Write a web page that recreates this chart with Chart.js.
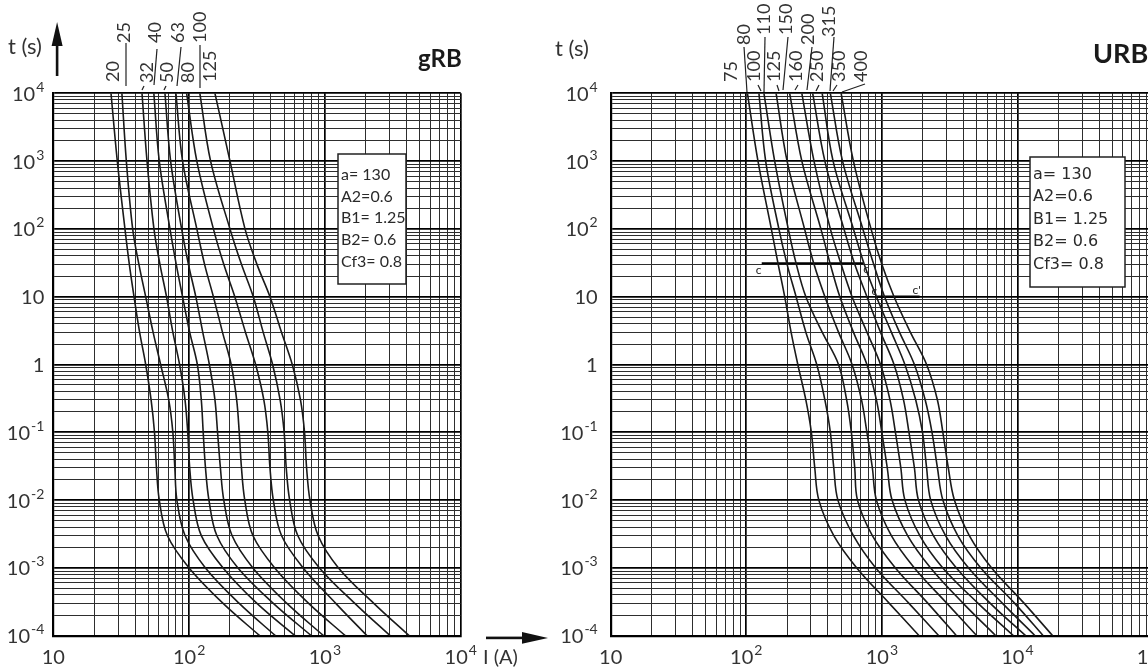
<!DOCTYPE html>
<html>
<head>
<meta charset="utf-8">
<script src="https://cdn.jsdelivr.net/npm/chart.js@4.4.0/dist/chart.umd.min.js"></script>
<style>
  html, body { margin: 0; padding: 0; background: #fff; width: 1148px; height: 669px; overflow: hidden; }
  #leftBox { position: absolute; left: 0; top: 0; }
  #rightBox { position: absolute; left: 545px; top: 0; }
</style>
</head>
<body>
<div id="leftBox"><canvas id="gChart" width="560" height="669"></canvas></div>
<div id="rightBox"><canvas id="uChart" width="640" height="669"></canvas></div>
<script>
// time levels (s) where the current of every curve was read
const tLevels = [1e4, 1e3, 100, 30, 10, 3, 1, 0.3, 0.1, 0.03, 0.01, 0.003, 0.001, 3e-4, 1e-4];

// gRB curves, current (A) at each time level
const gRatings = ["20", "25", "32", "40", "50", "63", "80", "100", "125"];
const g20 = [26.6, 29.6, 33.7, 36.3, 39.3, 43.2, 47.9, 52.5, 55.6, 57.5, 60.3, 69.2, 100, 178, 331];
const g25 = [32, 34.5, 38.4, 42.7, 47.9, 54.3, 61.7, 70.8, 75.9, 78.5, 81.3, 93.3, 132, 234, 432];
const g32 = [45, 49, 55.1, 61, 68.2, 75.9, 85.1, 93.3, 97.7, 101, 107, 123, 178, 316, 603];
const g40 = [55, 60.3, 72.3, 80.4, 89.5, 101, 115, 123, 127, 132, 140, 160, 229, 417, 794];
const g50 = [66.4, 73.1, 88.1, 98.9, 112, 126, 141, 155, 162, 170, 180, 207, 295, 525, 977];
const g63 = [80, 89.5, 114, 130, 151, 176, 204, 224, 234, 243, 257, 295, 427, 759, 1413];
const g80 = [95.9, 114, 151, 180, 217, 260, 309, 355, 380, 394, 417, 479, 692, 1202, 2042];
const g100 = [120, 144, 200, 243, 297, 351, 412, 468, 501, 519, 550, 631, 912, 1660, 3020];
const g125 = [155, 200, 258, 316, 394, 479, 575, 661, 708, 733, 776, 891, 1259, 2291, 4169];

// URB curves, current (A) at each time level
const uRatings = ["75", "80", "100", "110", "125", "150", "160", "200", "250", "315", "350", "400"];
const u1 = [102, 122, 153, 172, 192, 214, 240, 275, 302, 320, 343, 442, 653, 1135, 1884];
const u2 = [124, 139, 174, 200, 233, 275, 331, 380, 417, 442, 474, 617, 902, 1585, 2630];
const u3 = [135, 162, 204, 234, 275, 363, 479, 550, 596, 631, 661, 851, 1259, 2188, 3548];
const u4 = [166, 200, 269, 316, 380, 479, 603, 708, 776, 851, 912, 1175, 1738, 3020, 5012];
const u5 = [209, 257, 355, 417, 490, 617, 776, 912, 1000, 1096, 1189, 1549, 2291, 3981, 6918];
const u6 = [257, 316, 417, 501, 603, 776, 977, 1148, 1259, 1380, 1479, 1905, 2818, 5129, 9333];
const u7 = [309, 380, 525, 631, 776, 977, 1230, 1445, 1585, 1738, 1862, 2399, 3548, 6310, 11480];
const u8 = [363, 437, 617, 741, 912, 1175, 1479, 1778, 1995, 2138, 2291, 2951, 4365, 7762, 13490];
const u9 = [417, 513, 724, 871, 1047, 1349, 1738, 2089, 2344, 2570, 2818, 3631, 5370, 9550, 15490];
const u10 = [501, 617, 832, 1000, 1230, 1622, 2138, 2570, 2818, 3090, 3428, 4416, 6457, 11220, 18200];

// c - c' marks on URB (current range and time)
const cLineAI = [130, 728];
const cLineAT = 31;
const cLineBI = [912, 1900];
const cLineBT = 10;

const paramLines = ["a= 130", "A2=0.6", "B1= 1.25", "B2= 0.6", "Cf3= 0.8"];

const FONT = "Lato, 'DejaVu Sans', sans-serif";
const INK = "#1a1a1a";

function logGrid(minExp, maxExp) {
  const v = [];
  for (let e = minExp; e < maxExp; e++) {
    for (let m = 1; m < 10; m++) v.push(m * Math.pow(10, e));
  }
  v.push(Math.pow(10, maxExp));
  return v;
}
function isDecade(v) {
  const l = Math.log10(v);
  return Math.abs(l - Math.round(l)) < 1e-6;
}

// "10" with a raised exponent, like the printed sheet
function drawPow(c, v, x, y, align) {
  const e = Math.round(Math.log10(v));
  const base = e === 0 ? "1" : "10";
  const exp = e === 0 || e === 1 ? "" : String(e);
  c.font = "20px " + FONT;
  const wb = c.measureText(base).width;
  c.font = "14px " + FONT;
  const we = exp ? c.measureText(exp).width + 1 : 0;
  const x0 = align === "center" ? x - (wb + we) / 2 : x - wb - we;
  c.font = "20px " + FONT;
  c.fillText(base, x0, y);
  if (exp) {
    c.font = "14px " + FONT;
    c.fillText(exp, x0 + wb + 1, y - 7);
  }
}

function curveSet(list) {
  return list.map((arr) => ({
    data: arr.map((I, i) => ({ x: I, y: tLevels[i] })),
    borderColor: INK,
    borderWidth: 1.6,
    pointRadius: 0,
    tension: 0.35,
    fill: false,
  }));
}
function hLine(I, t) {
  return {
    data: I.map((v) => ({ x: v, y: t })),
    borderColor: "#000",
    borderWidth: 2.4,
    pointRadius: 0,
    tension: 0,
  };
}

function axes(xMax, yWidth) {
  const gridStyle = {
    drawTicks: false,
    color: (c) => (c.tick && isDecade(c.tick.value) ? "#000" : "#2e2e2e"),
    lineWidth: (c) => (c.tick && isDecade(c.tick.value) ? 1.7 : 1),
  };
  return {
    x: {
      type: "logarithmic",
      min: 10,
      max: xMax,
      afterBuildTicks: (s) => { s.ticks = logGrid(1, Math.round(Math.log10(xMax))).map((v) => ({ value: v })); },
      afterFit: (s) => { s.height = 33.3; },
      ticks: { autoSkip: false, maxRotation: 0, callback: () => "" },
      grid: gridStyle,
      border: { color: "#000", width: 2.2 },
    },
    y: {
      type: "logarithmic",
      min: 1e-4,
      max: 1e4,
      afterBuildTicks: (s) => { s.ticks = logGrid(-4, 4).map((v) => ({ value: v })); },
      afterFit: (s) => { s.width = yWidth; },
      ticks: { autoSkip: false, callback: () => "" },
      grid: gridStyle,
      border: { color: "#000", width: 2.2 },
    },
  };
}

function decoPlugin(cfg) {
  return {
    id: "deco",
    afterDraw(chart) {
      const c = chart.ctx;
      const ox = cfg.offsetX;
      const xs = chart.scales.x, ys = chart.scales.y;
      const area = chart.chartArea;
      c.save();
      // tick labels at the decades
      c.fillStyle = "#333";
      c.textAlign = "left";
      c.textBaseline = "middle";
      xs.ticks.filter((t) => isDecade(t.value)).forEach((t) => {
        drawPow(c, t.value, xs.getPixelForValue(t.value), area.bottom + 22, "center");
      });
      ys.ticks.filter((t) => isDecade(t.value)).forEach((t) => {
        drawPow(c, t.value, area.left - cfg.yPad, ys.getPixelForValue(t.value) + 1, "right");
      });
      // title
      c.fillStyle = INK;
      c.font = "bold " + cfg.titleSize + "px " + FONT;
      c.textBaseline = "alphabetic";
      c.fillText(cfg.title, cfg.titleX - ox, cfg.titleY);
      // t (s)
      c.font = "22px " + FONT;
      c.fillStyle = "#333";
      c.textBaseline = "middle";
      c.fillText("t (s)", cfg.tX - ox, cfg.tY);
      // parameter box
      const b = cfg.box;
      c.fillStyle = "#fff";
      c.fillRect(b.x0 - ox, b.y0, b.x1 - b.x0, b.y1 - b.y0);
      c.lineWidth = 1.5;
      c.strokeStyle = "#222";
      c.strokeRect(b.x0 - ox, b.y0, b.x1 - b.x0, b.y1 - b.y0);
      c.fillStyle = "#2a2a2a";
      c.font = b.font;
      paramLines.forEach((txt, i) => c.fillText(txt, b.x0 + 3 - ox, b.rows[i]));
      // rating labels, rotated
      c.font = "18px " + FONT;
      c.fillStyle = "#333";
      cfg.labels.forEach((lb, i) => {
        c.save();
        c.translate(lb[0] - ox, lb[1]);
        c.rotate(-Math.PI / 2);
        c.textAlign = "left";
        c.textBaseline = "middle";
        c.fillText(cfg.ratings[i], 0, 0);
        c.restore();
      });
      // leaders
      c.strokeStyle = "#222";
      c.lineWidth = 1.2;
      cfg.leaders.forEach((l) => {
        c.beginPath();
        c.moveTo(l[0] - ox, l[1]);
        c.lineTo(l[2] - ox, l[3]);
        c.stroke();
      });
      if (cfg.extra) cfg.extra(chart, c);
      c.restore();
    },
  };
}

// gRB chart
const gCtx = document.getElementById("gChart").getContext("2d");
const gChart = new Chart(gCtx, {
  type: "line",
  data: { datasets: curveSet([g20, g25, g32, g40, g50, g63, g80, g100, g125]) },
  options: {
    responsive: false,
    animation: false,
    events: [],
    layout: { padding: { left: 0, top: 93.3, right: 99.3, bottom: 0 } },
    plugins: { legend: { display: false }, tooltip: { enabled: false } },
    scales: axes(1e4, 53.3),
  },
  plugins: [decoPlugin({
    offsetX: 0, yPad: 9,
    title: "gRB", titleSize: 24, titleX: 418, titleY: 67,
    tX: 8, tY: 47,
    box: { x0: 338, y0: 154, x1: 406, y1: 284, rows: [175, 197, 218, 240, 262], font: "16px " + FONT },
    ratings: gRatings,
    labels: [[113, 82], [124, 43], [147, 83], [155, 43], [167, 83], [178, 43], [188, 83], [200, 43], [210, 82]],
    leaders: [[126, 43, 126, 86], [144, 86, 142, 90], [157, 49, 154, 85], [166, 86, 164, 90], [181, 47, 177, 86], [200, 45, 200, 88]],
    extra: (chart, c) => {
      c.fillStyle = "#111";
      // up arrow
      c.fillRect(55.8, 44, 2.6, 32);
      c.beginPath();
      c.moveTo(57.1, 22); c.lineTo(62.6, 46); c.lineTo(51.6, 46); c.closePath(); c.fill();
      // right arrow
      c.fillRect(486, 636.6, 38, 2.6);
      c.beginPath();
      c.moveTo(548, 637.9); c.lineTo(522, 632); c.lineTo(522, 643.8); c.closePath(); c.fill();
      c.fillStyle = "#333";
      c.font = "20px " + FONT;
      c.textBaseline = "middle";
      c.fillText("I (A)", 483, 658);
    },
  })],
});

// URB chart
const uCtx = document.getElementById("uChart").getContext("2d");
const uChart = new Chart(uCtx, {
  type: "line",
  data: { datasets: curveSet([u1, u2, u3, u4, u5, u6, u7, u8, u9, u10]).concat([hLine(cLineAI, cLineAT), hLine(cLineBI, cLineBT)]) },
  options: {
    responsive: false,
    animation: false,
    events: [],
    layout: { padding: { left: 0, top: 93.3, right: 32, bottom: 0 } },
    plugins: { legend: { display: false }, tooltip: { enabled: false } },
    scales: axes(1e5, 65.7),
  },
  plugins: [decoPlugin({
    offsetX: 545, yPad: 13,
    title: "URB", titleSize: 27, titleX: 1093, titleY: 63,
    tX: 555, tY: 49,
    box: { x0: 1030, y0: 157, x1: 1125, y1: 287, rows: [175, 197, 220, 242, 265], font: "16px 'DejaVu Sans', sans-serif" },
    ratings: uRatings,
    labels: [[731, 82], [744, 45], [754, 82], [764, 35], [774, 82], [786, 35], [796, 82], [808, 45], [817, 82], [829, 37], [839, 82], [861, 82]],
    leaders: [[744, 47, 747, 92], [758, 85, 761, 91], [765, 37, 764, 92], [777, 85, 779, 91], [788, 37, 783, 90], [798, 85, 795, 90], [812, 47, 807, 90], [819, 85, 816, 91], [834, 37, 830, 91], [837, 85, 833, 91], [865, 84, 842, 92]],
    extra: (chart, c) => {
      const xs = chart.scales.x, ys = chart.scales.y;
      c.fillStyle = "#222";
      c.font = "12px " + FONT;
      c.textBaseline = "middle";
      c.textAlign = "center";
      const ya = ys.getPixelForValue(cLineAT), yb = ys.getPixelForValue(cLineBT);
      c.fillText("c", xs.getPixelForValue(cLineAI[0]) - 3, ya + 7);
      c.fillText("c", xs.getPixelForValue(cLineAI[1]) + 3, ya + 6);
      c.fillText("c", xs.getPixelForValue(cLineBI[0]) - 2, yb - 6);
      c.fillText("c'", xs.getPixelForValue(cLineBI[1]) - 3, yb - 7);
    },
  })],
});
</script>
</body>
</html>
